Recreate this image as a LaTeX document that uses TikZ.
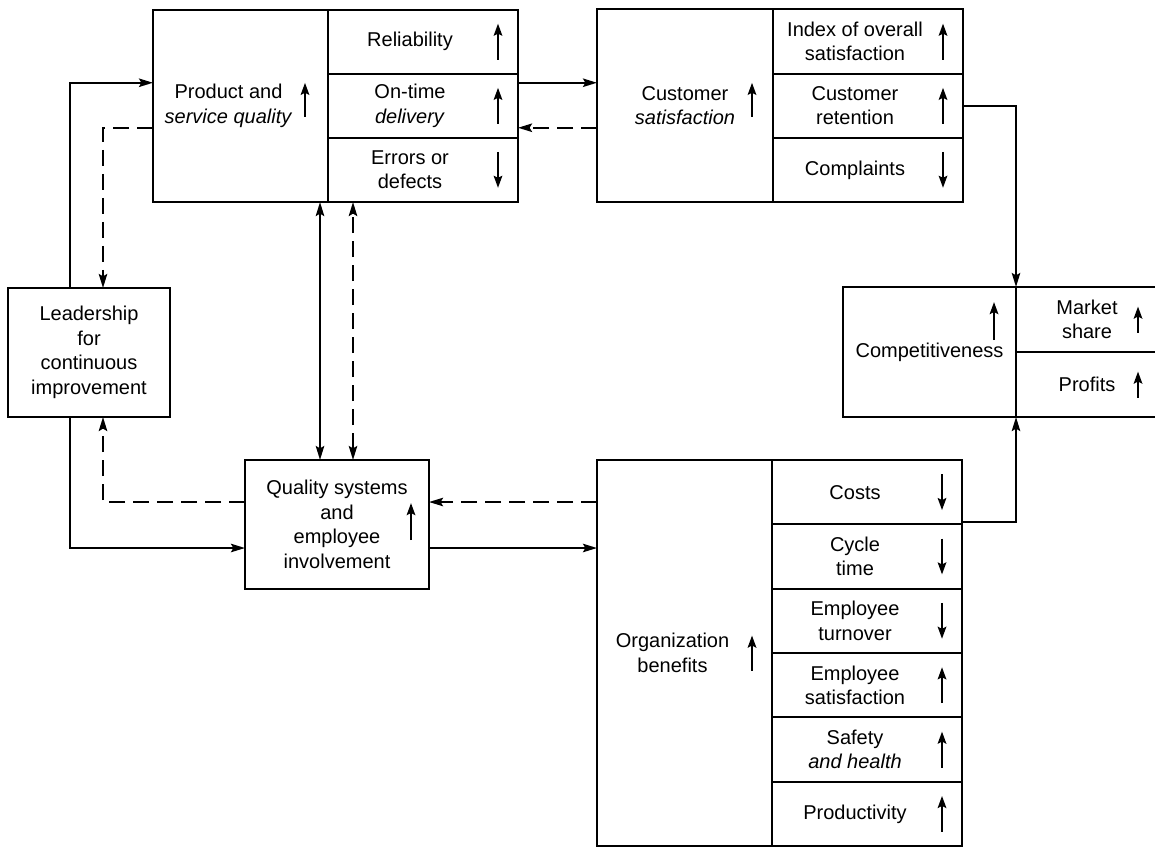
\documentclass[tikz,border=0pt]{standalone}
\usepackage{fontspec}
\setmainfont{Liberation Sans}
\usetikzlibrary{positioning, arrows.meta, calc}

\begin{document}
\begin{tikzpicture}[
    x=0.5pt, y=-0.5pt,
    >={Stealth[length=7pt, width=4.2pt, inset=1.2pt]},
    box/.style={rectangle, draw, line width=1pt, inner sep=0pt, outer sep=0pt},
    lbl/.style={align=center, inner sep=0pt, font=\fontsize{10}{12.25}\selectfont},
    cell/.style={box, minimum width=95pt, minimum height=32.08pt},
    arrow/.style={->, line width=1.1pt},
    dasharrow/.style={arrow, dash pattern=on 8pt off 4pt},
    levelmark/.style={-{Stealth[length=6pt, width=4.2pt, inset=1pt]}, line width=1.4pt}
  ]
    \useasboundingbox (0,0) rectangle (1155,847);

    % product and service quality
    \node[box, minimum width=87.5pt, minimum height=96.25pt] (prod) at (240.5,105.75) {};
    \node[lbl, xshift=-6pt] (prod-t) at (prod.center) {Product and\\\textit{service quality}};
    \foreach \cn/\ctext/\cdir [count=\i from 0] in {rel/Reliability/1,
        ontime/{On-time\\\textit{delivery}}/1, errors/{Errors or\\defects}/-1} {
      \node[cell, anchor=north west] (\cn) at ([yshift=-\i*32.08pt]prod.north east) {};
      \node[lbl, xshift=-6.5pt] (\cn-t) at (\cn.center) {\ctext};
      \draw[levelmark] ([xshift=-10pt, yshift=-(\cdir)*9pt]\cn.east) -- ([xshift=-10pt, yshift=(\cdir)*9pt]\cn.east);
    }

    % customer satisfaction
    \node[box, lbl, minimum width=88pt, minimum height=96.25pt, right=39.5pt of ontime]
          (cust) {Customer\\\textit{satisfaction}};
    \foreach \cn/\ctext/\cdir [count=\i from 0] in {index/{Index of overall\\satisfaction}/1,
        retention/{Customer\\retention}/1, complaints/Complaints/-1} {
      \node[cell, anchor=north west] (\cn) at ([yshift=-\i*32.08pt]cust.north east) {};
      \node[lbl, xshift=-6.5pt] (\cn-t) at (\cn.center) {\ctext};
      \draw[levelmark] ([xshift=-10pt, yshift=-(\cdir)*9pt]\cn.east) -- ([xshift=-10pt, yshift=(\cdir)*9pt]\cn.east);
    }

    % competitiveness
    \node[box, lbl, minimum width=86.5pt, minimum height=65pt] (comp) at (929.5,352) {Competitiveness};
    \node[box, lbl, minimum width=71pt, minimum height=32.5pt, anchor=north west]
          (market) at (comp.north east) {Market\\share};
    \node[box, lbl, minimum width=71pt, minimum height=32.5pt, below=0pt of market] (profits) {Profits};

    % leadership and quality systems
    \node[box, lbl, minimum width=81pt, minimum height=64.5pt] (lead) at (89,352.5)
          {Leadership\\for\\continuous\\improvement};
    \node[box, lbl, minimum width=92pt, minimum height=64.5pt] (qual) at (337,524.5)
          {Quality systems\\and\\employee\\involvement};

    % organization benefits
    \node[box, minimum width=87.5pt, minimum height=193pt, anchor=north west] (org) at (597,460) {};
    \node[lbl, xshift=-6pt] (org-t) at (org.center) {Organization\\benefits};
    \foreach \cn/\ctext/\cdir [count=\i from 0] in {costs/Costs/-1, cycle/{Cycle\\time}/-1,
        turnover/{Employee\\turnover}/-1, empsat/{Employee\\satisfaction}/1,
        safety/{Safety\\\textit{and health}}/1, prodty/Productivity/1} {
      \node[cell, minimum height=32.17pt, anchor=north west] (\cn) at ([yshift=-\i*32.17pt]org.north east) {};
      \node[lbl, xshift=-6pt] (\cn-t) at (\cn.center) {\ctext};
      \draw[levelmark] ([xshift=-10pt, yshift=-(\cdir)*9pt]\cn.east) -- ([xshift=-10pt, yshift=(\cdir)*9pt]\cn.east);
    }

    % level marks of the main boxes
    \draw[levelmark] ([xshift=-11.5pt, yshift=-5.5pt]prod.east) -- ++(0pt,17pt);
    \draw[levelmark] ([xshift=-10.5pt, yshift=-5.5pt]cust.east) -- ++(0pt,17pt);
    \draw[levelmark] ([xshift=-11pt, yshift=6pt]comp.east) -- ++(0pt,19pt);
    \draw[levelmark] ([xshift=-10pt, yshift=-6.5pt]market.east) -- ++(0pt,13pt);
    \draw[levelmark] ([xshift=-10pt, yshift=-6.5pt]profits.east) -- ++(0pt,13pt);
    \draw[levelmark] ([xshift=-9pt, yshift=-7.75pt]qual.east) -- ++(0pt,18.5pt);
    \draw[levelmark] ([xshift=-10pt, yshift=-8.75pt]org.east) -- ++(0pt,17.5pt);

    % connectors
    \draw[arrow] ([xshift=-9.5pt]lead.north) |- ([yshift=11.5pt]prod.west);
    \draw[dasharrow] ([yshift=-11pt]prod.west) -| ([xshift=7pt]lead.north);
    \draw[arrow] ([xshift=-9.5pt]lead.south) |- ([yshift=-11.75pt]qual.west);
    \draw[dasharrow] ([yshift=11.25pt]qual.west) -| ([xshift=7pt]lead.south);

    \draw[arrow, <->] ([xshift=-8.5pt]qual.north) -- ([xshift=-8.5pt]qual.north |- prod.south);
    \draw[dasharrow, <->] ([xshift=8pt]qual.north) -- ([xshift=8pt]qual.north |- prod.south);

    \draw[arrow] ([yshift=11.5pt]ontime.east) -- ([yshift=11.5pt]ontime.east -| cust.west);
    \draw[dasharrow] ([yshift=-11pt]cust.west) -- ([yshift=-11pt]cust.west -| ontime.east);

    \draw[arrow] (retention.east) -| (comp.north east);
    \draw[arrow] ([yshift=1pt]costs.south east) -| (comp.south east);

    \draw[arrow] ([yshift=-11.75pt]qual.east) -- ([yshift=-11.75pt]qual.east -| org.west);
    \draw[dasharrow] ([yshift=11.25pt]qual.east -| org.west) -- ([yshift=11.25pt]qual.east);
  \end{tikzpicture}
\end{document}
